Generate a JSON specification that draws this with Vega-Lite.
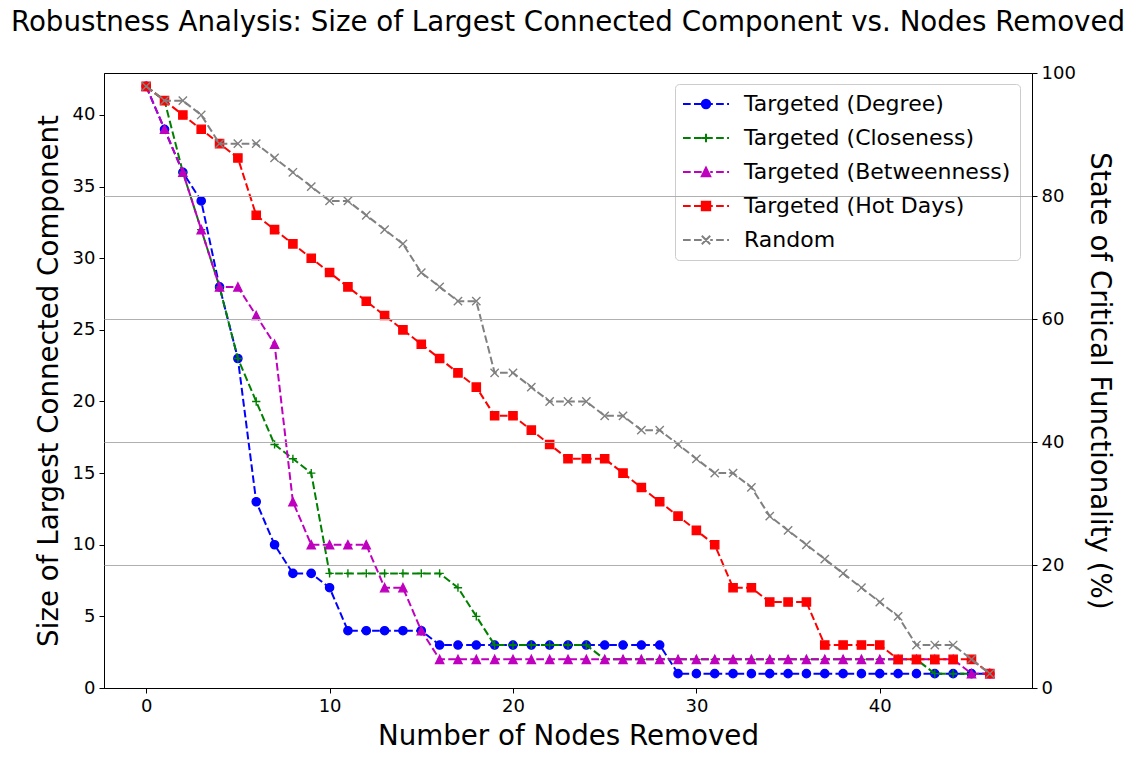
{
  "$schema": "https://vega.github.io/schema/vega-lite/v6.json",
  "width": 928,
  "height": 615,
  "autosize": "none",
  "padding": {"left": 104, "top": 73, "right": 106, "bottom": 73},
  "background": "white",
  "title": {"text": "Robustness Analysis: Size of Largest Connected Component vs. Nodes Removed", "fontSize": 27.7, "fontWeight": "normal", "color": "black", "anchor": "middle", "offset": 27},
  "config": {
    "font": "DejaVu Sans",
    "view": {"stroke": "black", "strokeWidth": 1},
    "axis": {"labelFontSize": 18, "titleFontSize": 27.7, "titleFontWeight": "normal", "labelColor": "black", "titleColor": "black", "tickColor": "black", "domainColor": "black", "tickSize": 5, "labelPadding": 4, "domainWidth": 1, "tickWidth": 1, "grid": false},
    "legend": {"orient": "none", "legendX": 571, "legendY": 11, "direction": "vertical", "padding": 9, "strokeColor": "#cccccc", "cornerRadius": 4, "fillColor": "rgba(255,255,255,0.85)", "labelFontSize": 22, "labelColor": "black", "labelLimit": 0, "rowPadding": 12, "symbolOffset": 11, "labelOffset": 27, "title": null, "zindex": 0}
  },
  "layer": [
    {
      "data": {"values": [
        {"n":0,"s":"D","v":42},{"n":1,"s":"D","v":39},{"n":2,"s":"D","v":36},{"n":3,"s":"D","v":34},{"n":4,"s":"D","v":28},{"n":5,"s":"D","v":23},{"n":6,"s":"D","v":13},{"n":7,"s":"D","v":10},{"n":8,"s":"D","v":8},{"n":9,"s":"D","v":8},{"n":10,"s":"D","v":7},{"n":11,"s":"D","v":4},{"n":12,"s":"D","v":4},{"n":13,"s":"D","v":4},{"n":14,"s":"D","v":4},{"n":15,"s":"D","v":4},{"n":16,"s":"D","v":3},{"n":17,"s":"D","v":3},{"n":18,"s":"D","v":3},{"n":19,"s":"D","v":3},{"n":20,"s":"D","v":3},{"n":21,"s":"D","v":3},{"n":22,"s":"D","v":3},{"n":23,"s":"D","v":3},{"n":24,"s":"D","v":3},{"n":25,"s":"D","v":3},{"n":26,"s":"D","v":3},{"n":27,"s":"D","v":3},{"n":28,"s":"D","v":3},{"n":29,"s":"D","v":1},{"n":30,"s":"D","v":1},{"n":31,"s":"D","v":1},{"n":32,"s":"D","v":1},{"n":33,"s":"D","v":1},{"n":34,"s":"D","v":1},{"n":35,"s":"D","v":1},{"n":36,"s":"D","v":1},{"n":37,"s":"D","v":1},{"n":38,"s":"D","v":1},{"n":39,"s":"D","v":1},{"n":40,"s":"D","v":1},{"n":41,"s":"D","v":1},{"n":42,"s":"D","v":1},{"n":43,"s":"D","v":1},{"n":44,"s":"D","v":1},{"n":45,"s":"D","v":1},{"n":46,"s":"D","v":1},
        {"n":0,"s":"C","v":42},{"n":1,"s":"C","v":41},{"n":2,"s":"C","v":36},{"n":3,"s":"C","v":32},{"n":4,"s":"C","v":28},{"n":5,"s":"C","v":23},{"n":6,"s":"C","v":20},{"n":7,"s":"C","v":17},{"n":8,"s":"C","v":16},{"n":9,"s":"C","v":15},{"n":10,"s":"C","v":8},{"n":11,"s":"C","v":8},{"n":12,"s":"C","v":8},{"n":13,"s":"C","v":8},{"n":14,"s":"C","v":8},{"n":15,"s":"C","v":8},{"n":16,"s":"C","v":8},{"n":17,"s":"C","v":7},{"n":18,"s":"C","v":5},{"n":19,"s":"C","v":3},{"n":20,"s":"C","v":3},{"n":21,"s":"C","v":3},{"n":22,"s":"C","v":3},{"n":23,"s":"C","v":3},{"n":24,"s":"C","v":3},{"n":25,"s":"C","v":2},{"n":26,"s":"C","v":2},{"n":27,"s":"C","v":2},{"n":28,"s":"C","v":2},{"n":29,"s":"C","v":2},{"n":30,"s":"C","v":2},{"n":31,"s":"C","v":2},{"n":32,"s":"C","v":2},{"n":33,"s":"C","v":2},{"n":34,"s":"C","v":2},{"n":35,"s":"C","v":2},{"n":36,"s":"C","v":2},{"n":37,"s":"C","v":2},{"n":38,"s":"C","v":2},{"n":39,"s":"C","v":2},{"n":40,"s":"C","v":2},{"n":41,"s":"C","v":2},{"n":42,"s":"C","v":2},{"n":43,"s":"C","v":1},{"n":44,"s":"C","v":1},{"n":45,"s":"C","v":1},{"n":46,"s":"C","v":1},
        {"n":0,"s":"B","v":42},{"n":1,"s":"B","v":39},{"n":2,"s":"B","v":36},{"n":3,"s":"B","v":32},{"n":4,"s":"B","v":28},{"n":5,"s":"B","v":28},{"n":6,"s":"B","v":26},{"n":7,"s":"B","v":24},{"n":8,"s":"B","v":13},{"n":9,"s":"B","v":10},{"n":10,"s":"B","v":10},{"n":11,"s":"B","v":10},{"n":12,"s":"B","v":10},{"n":13,"s":"B","v":7},{"n":14,"s":"B","v":7},{"n":15,"s":"B","v":4},{"n":16,"s":"B","v":2},{"n":17,"s":"B","v":2},{"n":18,"s":"B","v":2},{"n":19,"s":"B","v":2},{"n":20,"s":"B","v":2},{"n":21,"s":"B","v":2},{"n":22,"s":"B","v":2},{"n":23,"s":"B","v":2},{"n":24,"s":"B","v":2},{"n":25,"s":"B","v":2},{"n":26,"s":"B","v":2},{"n":27,"s":"B","v":2},{"n":28,"s":"B","v":2},{"n":29,"s":"B","v":2},{"n":30,"s":"B","v":2},{"n":31,"s":"B","v":2},{"n":32,"s":"B","v":2},{"n":33,"s":"B","v":2},{"n":34,"s":"B","v":2},{"n":35,"s":"B","v":2},{"n":36,"s":"B","v":2},{"n":37,"s":"B","v":2},{"n":38,"s":"B","v":2},{"n":39,"s":"B","v":2},{"n":40,"s":"B","v":2},{"n":41,"s":"B","v":2},{"n":42,"s":"B","v":2},{"n":43,"s":"B","v":2},{"n":44,"s":"B","v":2},{"n":45,"s":"B","v":1},{"n":46,"s":"B","v":1},
        {"n":0,"s":"H","v":42},{"n":1,"s":"H","v":41},{"n":2,"s":"H","v":40},{"n":3,"s":"H","v":39},{"n":4,"s":"H","v":38},{"n":5,"s":"H","v":37},{"n":6,"s":"H","v":33},{"n":7,"s":"H","v":32},{"n":8,"s":"H","v":31},{"n":9,"s":"H","v":30},{"n":10,"s":"H","v":29},{"n":11,"s":"H","v":28},{"n":12,"s":"H","v":27},{"n":13,"s":"H","v":26},{"n":14,"s":"H","v":25},{"n":15,"s":"H","v":24},{"n":16,"s":"H","v":23},{"n":17,"s":"H","v":22},{"n":18,"s":"H","v":21},{"n":19,"s":"H","v":19},{"n":20,"s":"H","v":19},{"n":21,"s":"H","v":18},{"n":22,"s":"H","v":17},{"n":23,"s":"H","v":16},{"n":24,"s":"H","v":16},{"n":25,"s":"H","v":16},{"n":26,"s":"H","v":15},{"n":27,"s":"H","v":14},{"n":28,"s":"H","v":13},{"n":29,"s":"H","v":12},{"n":30,"s":"H","v":11},{"n":31,"s":"H","v":10},{"n":32,"s":"H","v":7},{"n":33,"s":"H","v":7},{"n":34,"s":"H","v":6},{"n":35,"s":"H","v":6},{"n":36,"s":"H","v":6},{"n":37,"s":"H","v":3},{"n":38,"s":"H","v":3},{"n":39,"s":"H","v":3},{"n":40,"s":"H","v":3},{"n":41,"s":"H","v":2},{"n":42,"s":"H","v":2},{"n":43,"s":"H","v":2},{"n":44,"s":"H","v":2},{"n":45,"s":"H","v":2},{"n":46,"s":"H","v":1},
        {"n":0,"s":"R","v":42},{"n":1,"s":"R","v":41},{"n":2,"s":"R","v":41},{"n":3,"s":"R","v":40},{"n":4,"s":"R","v":38},{"n":5,"s":"R","v":38},{"n":6,"s":"R","v":38},{"n":7,"s":"R","v":37},{"n":8,"s":"R","v":36},{"n":9,"s":"R","v":35},{"n":10,"s":"R","v":34},{"n":11,"s":"R","v":34},{"n":12,"s":"R","v":33},{"n":13,"s":"R","v":32},{"n":14,"s":"R","v":31},{"n":15,"s":"R","v":29},{"n":16,"s":"R","v":28},{"n":17,"s":"R","v":27},{"n":18,"s":"R","v":27},{"n":19,"s":"R","v":22},{"n":20,"s":"R","v":22},{"n":21,"s":"R","v":21},{"n":22,"s":"R","v":20},{"n":23,"s":"R","v":20},{"n":24,"s":"R","v":20},{"n":25,"s":"R","v":19},{"n":26,"s":"R","v":19},{"n":27,"s":"R","v":18},{"n":28,"s":"R","v":18},{"n":29,"s":"R","v":17},{"n":30,"s":"R","v":16},{"n":31,"s":"R","v":15},{"n":32,"s":"R","v":15},{"n":33,"s":"R","v":14},{"n":34,"s":"R","v":12},{"n":35,"s":"R","v":11},{"n":36,"s":"R","v":10},{"n":37,"s":"R","v":9},{"n":38,"s":"R","v":8},{"n":39,"s":"R","v":7},{"n":40,"s":"R","v":6},{"n":41,"s":"R","v":5},{"n":42,"s":"R","v":3},{"n":43,"s":"R","v":3},{"n":44,"s":"R","v":3},{"n":45,"s":"R","v":2},{"n":46,"s":"R","v":1}
      ]},
      "encoding": {
        "x": {"field": "n", "type": "quantitative", "scale": {"domain": [-2.3, 48.3], "nice": false, "zero": false}, "axis": {"title": "Number of Nodes Removed", "values": [0, 10, 20, 30, 40], "format": "d", "labelFlush": false, "titlePadding": 7}},
        "y": {"field": "v", "type": "quantitative", "scale": {"domain": [0, 42.93], "nice": false}, "axis": {"orient": "left", "title": "Size of Largest Connected Component", "values": [0, 5, 10, 15, 20, 25, 30, 35, 40], "titlePadding": 9, "labelFlush": false}},
        "color": {"field": "s", "type": "nominal", "scale": {"domain": ["D", "C", "B", "H", "R"], "range": ["#0000ff", "#008000", "#bf00bf", "#ff0000", "#808080"]},
          "legend": {
            "labelExpr": "datum.value==='D'?'Targeted (Degree)':datum.value==='C'?'Targeted (Closeness)':datum.value==='B'?'Targeted (Betweenness)':datum.value==='H'?'Targeted (Hot Days)':'Random'",
            "encode": {"symbols": {"update": {
              "shape": {"signal": "datum.value==='D'?'M-2.3,0H-1.53M-1.2,0H-0.43M0.42,0H0.68M1.01,0H1.78M2.11,0H2.3M0.42,0A0.42,0.42 0 1,1 -0.42,0A0.42,0.42 0 1,1 0.42,0Z':datum.value==='C'?'M-2.3,0H-1.53M-1.2,0H-0.43M0.42,0H0.68M1.01,0H1.78M2.11,0H2.3M-0.42,0H0.42M0,-0.42V0.42':datum.value==='B'?'M-2.3,0H-1.53M-1.2,0H-0.43M0.42,0H0.68M1.01,0H1.78M2.11,0H2.3M0,-0.42L-0.42,0.42L0.42,0.42Z':datum.value==='H'?'M-2.3,0H-1.53M-1.2,0H-0.43M0.42,0H0.68M1.01,0H1.78M2.11,0H2.3M-0.42,-0.42H0.42V0.42H-0.42Z':'M-2.3,0H-1.53M-1.2,0H-0.43M0.42,0H0.68M1.01,0H1.78M2.11,0H2.3M-0.42,-0.42L0.42,0.42M-0.42,0.42L0.42,-0.42'"},
              "fill": {"scale": "color", "field": "value"},
              "stroke": {"scale": "color", "field": "value"},
              "strokeWidth": {"value": 2},
              "strokeDash": {"value": []},
              "size": {"value": 400},
              "opacity": {"value": 1}
            }}}
          }
        }
      },
      "layer": [
        {"transform": [{"filter": "datum.s==='D'"}], "layer": [
          {"mark": {"type": "line", "strokeDash": [7.7, 3.3], "strokeWidth": 2}},
          {"mark": {"type": "point", "shape": "circle", "filled": true, "size": 69, "strokeWidth": 1.3, "stroke": "#0000ff", "opacity": 1}}
        ]},
        {"transform": [{"filter": "datum.s==='C'"}], "layer": [
          {"mark": {"type": "line", "strokeDash": [7.7, 3.3], "strokeWidth": 2}},
          {"mark": {"type": "point", "shape": "M-1,0H1M0,-1V1", "filled": true, "size": 69, "strokeWidth": 1.4, "stroke": "#008000", "opacity": 1}}
        ]},
        {"transform": [{"filter": "datum.s==='B'"}], "layer": [
          {"mark": {"type": "line", "strokeDash": [7.7, 3.3], "strokeWidth": 2}},
          {"mark": {"type": "point", "shape": "M0,-1L-1,1L1,1Z", "filled": true, "size": 69, "strokeWidth": 1.3, "stroke": "#bf00bf", "opacity": 1}}
        ]},
        {"transform": [{"filter": "datum.s==='H'"}], "layer": [
          {"mark": {"type": "line", "strokeDash": [7.7, 3.3], "strokeWidth": 2}},
          {"mark": {"type": "point", "shape": "square", "filled": true, "size": 69, "strokeWidth": 1.3, "stroke": "#ff0000", "opacity": 1}}
        ]},
        {"transform": [{"filter": "datum.s==='R'"}], "layer": [
          {"mark": {"type": "line", "strokeDash": [7.7, 3.3], "strokeWidth": 2}},
          {"mark": {"type": "point", "shape": "M-1,-1L1,1M-1,1L1,-1", "filled": true, "size": 69, "strokeWidth": 1.4, "stroke": "#808080", "opacity": 1}}
        ]}
      ]
    },
    {
      "data": {"values": [{"p": 0}, {"p": 100}]},
      "mark": {"type": "point", "opacity": 0},
      "encoding": {
        "y": {"field": "p", "type": "quantitative", "scale": {"domain": [0, 100], "nice": false}, "axis": {"orient": "right", "title": "State of Critical Functionality (%)", "values": [0, 20, 40, 60, 80, 100], "grid": true, "gridColor": "#b0b0b0", "gridWidth": 1, "gridOpacity": {"condition": {"test": "datum.value == 0 || datum.value == 100", "value": 0}, "value": 1}, "zindex": 2, "titlePadding": 9, "labelFlush": false}}
      }
    }
  ],
  "resolve": {"scale": {"y": "independent"}}
}
